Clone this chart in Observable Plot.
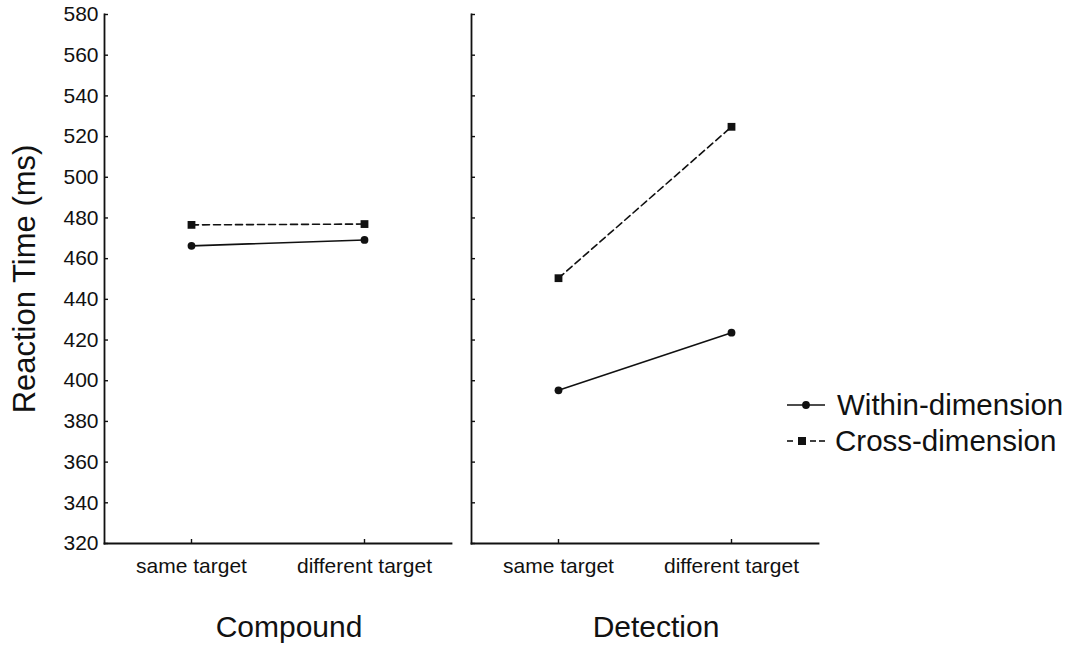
<!DOCTYPE html>
<html>
<head>
<meta charset="utf-8">
<script src="https://cdn.jsdelivr.net/npm/d3@7"></script>
<script src="https://cdn.jsdelivr.net/npm/@observablehq/plot@0.6"></script>
<style>
  html, body { margin: 0; padding: 0; background: #fff; }
  #wrap { position: relative; width: 1068px; height: 653px; font-family: "Liberation Sans", Arial, sans-serif; }
  #legend { position: absolute; left: 0; top: 0; pointer-events: none; }
</style>
</head>
<body>
<div id="wrap"></div>
<script>
// ---- data ----
const tasks = ["Compound", "Detection"];
const conditions = ["same target", "different target"];
const seriesNames = ["Within-dimension", "Cross-dimension"];
const withinRT = { Compound: [466.3, 469.2], Detection: [395.3, 423.6] };
const crossRT  = { Compound: [476.6, 477.0], Detection: [450.4, 524.8] };
const yTicks = [320, 340, 360, 380, 400, 420, 440, 460, 480, 500, 520, 540, 560, 580];
const yLabel = "Reaction Time (ms)";

const rows = [];
for (const t of tasks) {
  conditions.forEach((c, i) => {
    rows.push({task: t, cond: c, type: seriesNames[0], rt: withinRT[t][i]});
    rows.push({task: t, cond: c, type: seriesNames[1], rt: crossRT[t][i]});
  });
}
const within = rows.filter(d => d.type === seriesNames[0]);
const cross = rows.filter(d => d.type === seriesNames[1]);

const ink = "#111";
const chart = Plot.plot({
  width: 1068,
  height: 653,
  marginTop: 14,
  marginBottom: 110,
  marginLeft: 103,
  marginRight: 249,
  style: {fontFamily: "'Liberation Sans', Arial, sans-serif", color: ink, background: "#fff"},
  fx: {domain: tasks, paddingInner: 0.0543, paddingOuter: 0},
  x: {domain: conditions, type: "point", padding: 0.5},
  y: {domain: [320, 580]},
  marks: [
    Plot.frame({anchor: "left", strokeWidth: 1.8}),
    Plot.frame({anchor: "bottom", strokeWidth: 1.8}),
    Plot.axisY({ticks: yTicks, tickSize: -4, fill: "none", facetAnchor: null, label: null, strokeWidth: 1.4}),
    Plot.axisY({ticks: yTicks, tickSize: 0, tickPadding: 6, fontSize: 21, label: null}),
    Plot.axisX({tickSize: -4, fill: "none", label: null, strokeWidth: 1.4}),
    Plot.axisX({tickSize: 0, tickPadding: 15, fontSize: 21, label: null}),
    Plot.axisFx({anchor: "bottom", tickSize: 0, tickPadding: 72, fontSize: 30, dx: 11, label: null}),
    Plot.text([yLabel], {fx: () => tasks[0], frameAnchor: "left", rotate: -90, dx: -70, lineAnchor: "bottom", textAnchor: "middle", fontSize: 31, fill: ink}),
    Plot.line(within, {fx: "task", x: "cond", y: "rt", stroke: ink, strokeWidth: 1.6}),
    Plot.line(cross, {fx: "task", x: "cond", y: "rt", stroke: ink, strokeWidth: 1.6, strokeDasharray: "7,4"}),
    Plot.dot(within, {fx: "task", x: "cond", y: "rt", r: 3.9, fill: ink, symbol: "circle"}),
    Plot.dot(cross, {fx: "task", x: "cond", y: "rt", r: 4.4, fill: ink, symbol: "square"})
  ]
});
const wrap = document.getElementById("wrap");
wrap.appendChild(chart);

// ---- legend (overlay) ----
const ns = "http://www.w3.org/2000/svg";
const lg = document.createElementNS(ns, "svg");
lg.setAttribute("id", "legend");
lg.setAttribute("width", 1068);
lg.setAttribute("height", 653);
lg.innerHTML = `
  <g stroke="${ink}" stroke-width="1.6" fill="${ink}">
    <line x1="787" y1="405" x2="825" y2="405"/>
    <circle cx="806" cy="405" r="3.9" stroke="none"/>
    <line x1="787" y1="441" x2="793" y2="441"/>
    <rect x="798" y="437" width="8" height="8" stroke="none"/>
    <line x1="810" y1="441" x2="816" y2="441"/>
    <line x1="819" y1="441" x2="825" y2="441"/>
  </g>
  <g font-family="'Liberation Sans', Arial, sans-serif" font-size="29.5" fill="${ink}">
    <text x="837" y="415">${seriesNames[0]}</text>
    <text x="835" y="451">${seriesNames[1]}</text>
  </g>`;
wrap.appendChild(lg);
</script>
</body>
</html>
